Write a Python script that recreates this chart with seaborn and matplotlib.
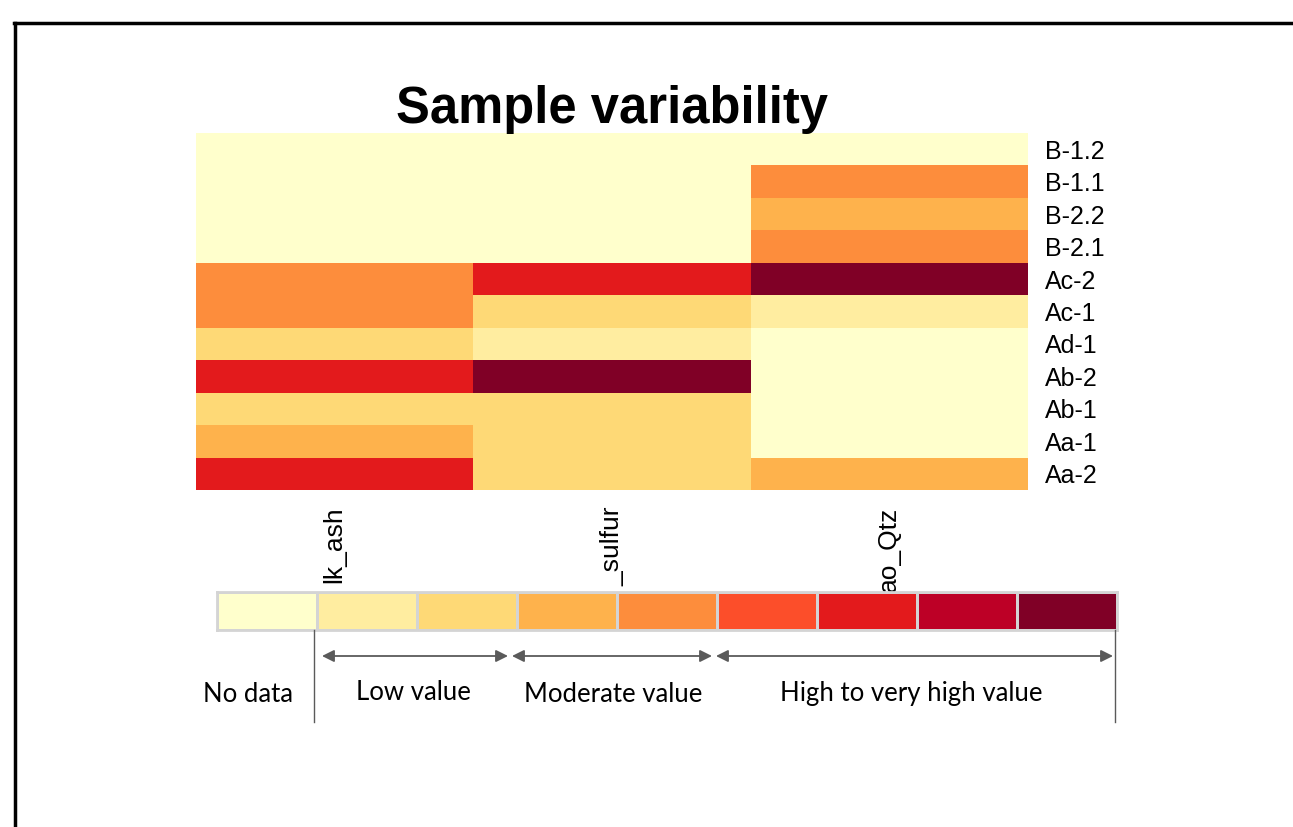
import matplotlib
matplotlib.use("Agg")
import matplotlib.pyplot as plt
from matplotlib.colors import ListedColormap
from matplotlib.lines import Line2D
from matplotlib.transforms import ScaledTranslation
import numpy as np
import pandas as pd
import seaborn as sns

# ---- data ----
samples = ["B-1.2", "B-1.1", "B-2.2", "B-2.1", "Ac-2", "Ac-1",
           "Ad-1", "Ab-2", "Ab-1", "Aa-1", "Aa-2"]
variables = ["lk_ash", "_sulfur", "ao_Qtz"]
ash_class = [0, 0, 0, 0, 4, 4, 2, 6, 2, 3, 6]
sulfur_class = [0, 0, 0, 0, 6, 2, 1, 8, 2, 2, 2]
qtz_class = [0, 4, 3, 4, 8, 1, 0, 0, 0, 0, 3]
legend_classes = [0, 1, 2, 3, 4, 5, 6, 7, 8]
legend_groups = ["No data", "Low value", "Moderate value", "High to very high value"]
title = "Sample variability"

# ColorBrewer YlOrRd, 9 classes
palette = ["#ffffcc", "#ffeda0", "#fed976", "#feb24c", "#fd8d3c",
           "#fc4e2a", "#e31a1c", "#bd0026", "#800026"]
cmap = ListedColormap(palette)

W, H = 1293, 827
fig = plt.figure(figsize=(W / 100, H / 100), dpi=100)
fig.patch.set_facecolor("white")

def fax(x0, y0, x1, y1):
    return fig.add_axes([x0 / W, 1 - y1 / H, (x1 - x0) / W, (y1 - y0) / H])

sans = ["Liberation Sans", "DejaVu Sans"]

# ---- main heatmap ----
df = pd.DataFrame({variables[0]: ash_class, variables[1]: sulfur_class,
                   variables[2]: qtz_class}, index=samples)
ax = fax(196, 133, 1028, 490)
sns.heatmap(df, cmap=cmap, vmin=-0.5, vmax=8.5, cbar=False, ax=ax)
ax.yaxis.tick_right()
ax.set_yticklabels(samples, rotation=0, fontsize=18, family=sans)
ax.set_xticklabels(variables, rotation=90, fontsize=19, va="top", family=sans)
shift = ScaledTranslation(8 / 100, 0, fig.dpi_scale_trans)
for lbl in ax.get_xticklabels():
    lbl.set_transform(lbl.get_transform() + shift)
ax.tick_params(axis="both", length=0)
ax.tick_params(axis="y", pad=12)
ax.tick_params(axis="x", pad=12)
ax.set_xlabel("")
ax.set_ylabel("")
ax.set_title(title, fontsize=36.5, fontweight="bold", y=1.0, pad=7.5,
             family=sans)

# ---- legend colour strip ----
lax = fax(217, 592, 1117, 630)
sns.heatmap(np.array([legend_classes]), cmap=cmap, vmin=-0.5, vmax=8.5,
            cbar=False, ax=lax, linewidths=2, linecolor="#d4d4d4",
            xticklabels=False, yticklabels=False)
for s in lax.spines.values():
    s.set_visible(True)
    s.set_color("#d4d4d4")
    s.set_linewidth(2)

# ---- overlay for arrows, text and border ----
oax = fig.add_axes([0, 0, 1, 1], facecolor="none")
oax.set_xlim(0, W)
oax.set_ylim(H, 0)
oax.axis("off")

gray = "#5a5a5a"
for x in (314, 1115):
    oax.add_line(Line2D([x, x], [630, 722], color=gray, lw=1.0))
for x0, x1 in ((322, 508), (512, 712), (716, 1113)):
    oax.annotate("", xy=(x1, 656), xytext=(x0, 656),
                 arrowprops=dict(arrowstyle="<|-|>", color=gray, lw=1.3,
                                 mutation_scale=18, shrinkA=0, shrinkB=0))
txt_pos = [(248, 694), (413, 692), (613, 694), (911, 694)]
for label, (x, y) in zip(legend_groups, txt_pos):
    oax.text(x, y, label, ha="center", va="center", fontsize=18.5,
             family=["Lato", "DejaVu Sans"], color="black")

# page border (left and top)
oax.add_line(Line2D([14.5, 14.5], [22.5, H], color="black", lw=2.5))
oax.add_line(Line2D([13.5, W], [22.5, 22.5], color="black", lw=2.5))

fig.savefig("out.png", dpi=100, facecolor="white")
